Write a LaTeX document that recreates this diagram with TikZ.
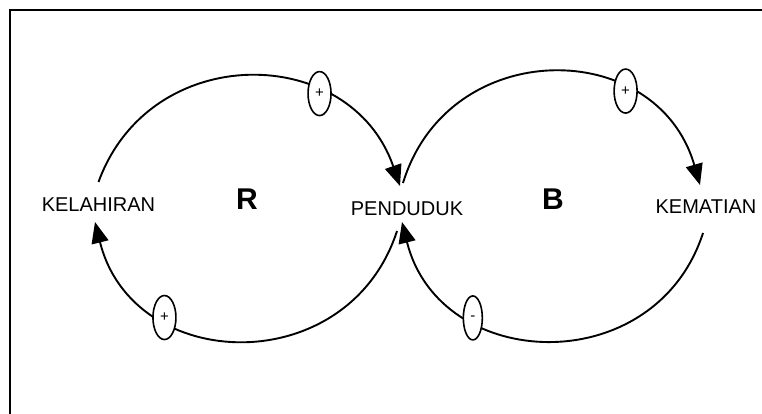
\documentclass[tikz,border=0pt]{standalone}
\usepackage{fontspec}
\setmainfont{Liberation Sans}
\usetikzlibrary{shapes.geometric,arrows.meta}
\tikzset{
  varlabel/.style={inner sep=0pt, font=\fontsize{20}{22}\selectfont},
  looplabel/.style={inner sep=0pt, font=\fontsize{30}{32}\selectfont\bfseries},
  link/.style={line width=1.9pt, -{Triangle[length=21pt,width=17pt]}},
  polarity/.style={ellipse, draw, fill=white, line width=1.6pt,
    minimum width=23pt, minimum height=44pt, inner sep=0pt,
    font=\fontsize{15}{15}\selectfont},
  narrowpol/.style={minimum width=19pt},
  frameline/.style={line width=2pt}
}
\begin{document}
\begin{tikzpicture}[x=1pt,y=1pt]
\useasboundingbox (0,0) rectangle (762,-414);
\fill[white] (0,0) rectangle (762,-414);
\draw[frameline] (10,-414) -- (10,-10) -- (762,-10);

% variables
\node[varlabel] (kel) at (98.5,-205) {KELAHIRAN};
\node[varlabel] (pen) at (407,-208.5) {PENDUDUK};
\node[varlabel] (kem) at (706,-207) {KEMATIAN};

% loop identifiers
\node[looplabel] (loopR) at (247,-199) {R};
\node[looplabel] (loopB) at (553,-199) {B};

% arrow ends around the variable names
\coordinate (kelTop) at ([shift={(0,23)}]kel.center);
\coordinate (kelBot) at ([shift={(-3.5,-17)}]kel.center);
\coordinate (penTL) at ([shift={(-7,22.5)}]pen.center);
\coordinate (penBL) at ([shift={(-10,-22.5)}]pen.center);
\coordinate (penTR) at ([shift={(-4,25.5)}]pen.center);
\coordinate (penBR) at ([shift={(-5,-13.5)}]pen.center);
\coordinate (kemTop) at ([shift={(-6,22)}]kem.center);
\coordinate (kemBot) at ([shift={(-3,-26)}]kem.center);

% reinforcing loop
\draw[link] (kelTop) to[out=70,in=109,looseness=1.28]
  node[polarity,pos=0.69] (p1) {+} (penTL);
\draw[link] (penBL) to[out=-108,in=-76,looseness=1.33]
  node[polarity,pos=0.71] (p2) {+} (kelBot);

% balancing loop
\draw[link] (penTR) to[out=73,in=106,looseness=1.33]
  node[polarity,pos=0.70] (p3) {+} (kemTop);
\draw[link] (kemBot) to[out=-108,in=-76,looseness=1.32]
  node[polarity,narrowpol,pos=0.705] (p4) {-} (penBR);
\end{tikzpicture}
\end{document}
